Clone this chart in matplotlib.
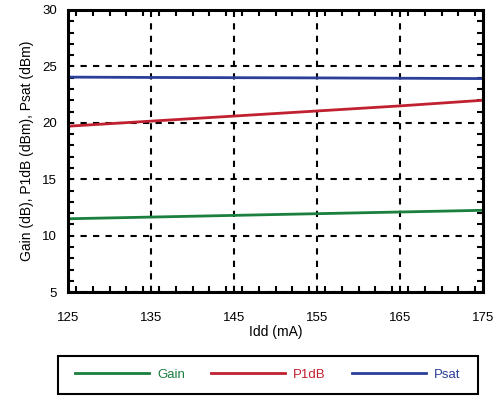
import numpy as np
import matplotlib.pyplot as plt
from matplotlib.ticker import MultipleLocator
from matplotlib.patches import Rectangle

plt.rcParams['font.family'] = ['Liberation Sans', 'DejaVu Sans']

idd = [125, 135, 145, 155, 165, 175]
gain = [11.5, 11.65, 11.8, 11.95, 12.1, 12.25]
p1db = [19.7, 20.15, 20.6, 21.05, 21.5, 22.0]
psat = [24.05, 24.02, 24.0, 23.98, 23.95, 23.92]

GREEN = '#1b7f3e'
RED = '#c02030'
BLUE = '#2b3f98'

fig = plt.figure(figsize=(4.97, 3.98), dpi=100)
ax = fig.add_axes([0.137, 0.266, 0.835, 0.709])

ax.plot(idd, gain, color=GREEN, linewidth=2, label='Gain')
ax.plot(idd, p1db, color=RED, linewidth=2, label='P1dB')
ax.plot(idd, psat, color=BLUE, linewidth=2, label='Psat')

ax.set_xlim(125, 175)
ax.set_ylim(5, 30)
ax.set_xticks(idd)
ax.xaxis.set_minor_locator(MultipleLocator(2))
ax.yaxis.set_major_locator(MultipleLocator(5))
ax.yaxis.set_minor_locator(MultipleLocator(1))

ax.grid(True, which='major', color='black', linestyle=(0, (3, 3)), linewidth=1.5)
ax.tick_params(which='both', direction='in', top=True, right=True, labelsize=9.5,
               width=1.5, color='black')
ax.tick_params(which='major', length=0)
ax.tick_params(which='minor', length=4)
ax.tick_params(axis='x', which='major', pad=14)
ax.tick_params(axis='y', which='major', pad=8)
for s in ax.spines.values():
    s.set_linewidth(2.2)

ax.set_xlabel('Idd (mA)', fontsize=10, labelpad=1)
ax.set_ylabel('Gain (dB), P1dB (dBm), Psat (dBm)', fontsize=10, labelpad=6)

# рамка легенды
fig.patches.append(Rectangle((0.117, 0.01), 0.845, 0.096, transform=fig.transFigure,
                             fill=False, edgecolor='black', linewidth=1.5))
leg = fig.legend(loc='center', bbox_to_anchor=(0.539, 0.058), ncol=3, frameon=False,
                 fontsize=9.5, handlelength=5.6, handletextpad=0.6, columnspacing=2.0,
                 labelcolor='linecolor')

fig.savefig('out.png', dpi=100)
